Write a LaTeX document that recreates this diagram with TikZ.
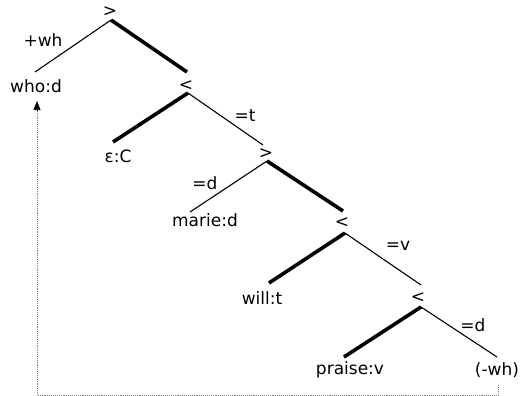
\documentclass[tikz,border=0pt]{standalone}
\usepackage{fontspec}
\setmainfont{DejaVu Sans}
\usetikzlibrary{arrows.meta}
\begin{document}
\begin{tikzpicture}[x=1pt,y=-1pt,
  lbl/.style={inner sep=0pt,font=\fontsize{17}{20}\selectfont},
  thin edge/.style={line width=1.1pt},
  head edge/.style={line width=3.6pt},
  move/.style={gray,densely dotted,line width=0.9pt}]
\useasboundingbox (0,0) rectangle (522,396);
% node labels
\node[lbl] (r)  at (110,12)  {>};
\node[lbl] (who) at (36,86) {who:d};
\node[lbl] (n1) at (186,86) {<};
\node[lbl] (eps) at (118,156) {ε:C};
\node[lbl] (n2) at (266,154) {>};
\node[lbl] (marie) at (205,220) {marie:d};
\node[lbl] (n3) at (342,223) {<};
\node[lbl] (will) at (262,298) {will:t};
\node[lbl] (n4) at (418,298) {<};
\node[lbl] (praise) at (350,370) {praise:v};
\node[lbl] (wh) at (497,370) {(-wh)};
% edge labels
\node[lbl] (l1) at (43,40) {+wh};
\node[lbl] (l2) at (245,116) {=t};
\node[lbl] (l3) at (205,183) {=d};
\node[lbl] (l4) at (398,246) {=v};
\node[lbl] (l5) at (473,325) {=d};
% attachment points
\coordinate (r-b) at (111,20);
\coordinate (who-t) at (35,72);
\coordinate (n1-t) at (187,72);
\coordinate (n1-b) at (188,93);
\coordinate (eps-t) at (113,142);
\coordinate (n2-t) at (263,145);
\coordinate (n2-b) at (267,161);
\coordinate (marie-t) at (190,212);
\coordinate (n3-t) at (343,211);
\coordinate (n3-b) at (345,233);
\coordinate (will-t) at (269,283);
\coordinate (n4-t) at (421,285);
\coordinate (n4-b) at (421,307);
\coordinate (praise-t) at (344,357);
\coordinate (wh-t) at (497,357);
\coordinate (wh-b) at (498,385);
\coordinate (c1) at (498,395);
\coordinate (c2) at (37,395);
\coordinate (who-b) at (37,101);
% edges
\draw[thin edge] (r-b) -- (who-t);
\draw[head edge] (r-b) -- (n1-t);
\draw[head edge] (n1-b) -- (eps-t);
\draw[thin edge] (n1-b) -- (n2-t);
\draw[thin edge] (n2-b) -- (marie-t);
\draw[head edge] (n2-b) -- (n3-t);
\draw[head edge] (n3-b) -- (will-t);
\draw[thin edge] (n3-b) -- (n4-t);
\draw[head edge] (n4-b) -- (praise-t);
\draw[thin edge] (n4-b) -- (wh-t);
% movement
\draw[move] (wh-b) -- (c1) -- (c2) -- (37,110);
\draw[-{Triangle[length=9pt,width=7pt]},black,line width=0.6pt] (37,111) -- (who-b);
\end{tikzpicture}
\end{document}
